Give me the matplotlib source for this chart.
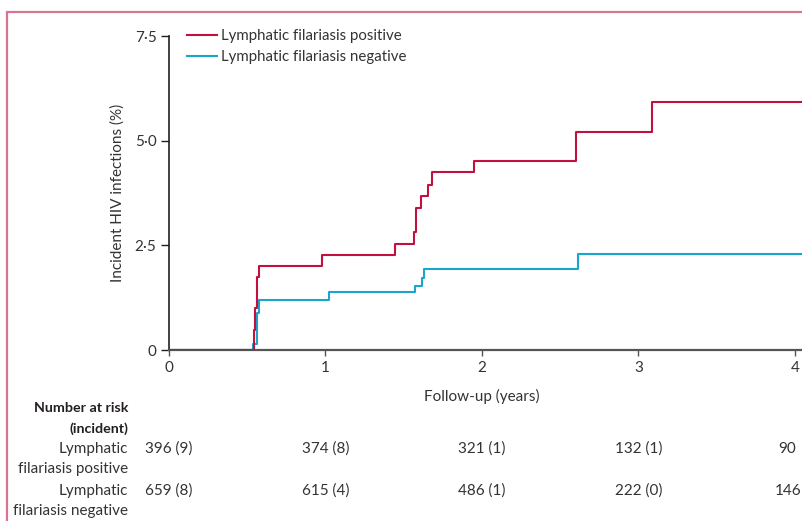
import matplotlib
matplotlib.use("Agg")
import matplotlib.pyplot as plt
import matplotlib.transforms as mtransforms
from matplotlib.patches import Rectangle

plt.rcParams['font.family'] = ['Lato', 'DejaVu Sans']

# cumulative incidence step data (years, %)
pos_t = [0, 0.542, 0.551, 0.560, 0.564, 0.577, 0.977, 1.444, 1.567, 1.578, 1.610, 1.657, 1.680, 1.951, 2.598, 3.088, 4.4]
pos_y = [0, 0.48, 1.01, 1.21, 1.75, 2.00, 2.27, 2.54, 2.81, 3.38, 3.67, 3.95, 4.25, 4.52, 5.21, 5.93, 5.93]
neg_t = [0, 0.539, 0.560, 0.573, 1.024, 1.574, 1.617, 1.630, 2.615, 4.4]
neg_y = [0, 0.14, 0.89, 1.19, 1.38, 1.54, 1.72, 1.93, 2.30, 2.30]

risk_years = [0, 1, 2, 3]
risk_pos = ["396 (9)", "374 (8)", "321 (1)", "132 (1)"]
risk_neg = ["659 (8)", "615 (4)", "486 (1)", "222 (0)"]
risk_last = ["90", "146"]

red = '#c2103f'
blue = '#1aa5cc'
txt = '#231f20'
grey = '#333333'

fig = plt.figure(figsize=(8.03, 5.21), dpi=100)
xmax = 4.3
ax = fig.add_axes([169/803, 171/521, xmax*156.5/803, 314/521])

# pink frame around the panel
fig.patches.append(Rectangle((7/803, -0.2), 1.5, 0.2 + 509/521, transform=fig.transFigure,
                             fill=False, edgecolor='#d9768f', linewidth=1.6))

ax.step(pos_t, pos_y, where='post', color=red, lw=1.5, label='Lymphatic filariasis positive', zorder=3)
ax.step(neg_t, neg_y, where='post', color=blue, lw=1.5, label='Lymphatic filariasis negative', zorder=2)

ax.set_xlim(0, xmax)
ax.set_ylim(0, 7.5)
ax.set_yticks([0, 2.5, 5, 7.5])
ax.set_yticklabels(['0', '2·5', '5·0', '7·5'])
ax.set_xticks([0, 1, 2, 3, 4])
ax.set_xticklabels(['0', '1', '2', '3', '4'])
for s in ['top', 'right']:
    ax.spines[s].set_visible(False)
ax.spines['left'].set_color(txt)
ax.spines['bottom'].set_color('#555555')
ax.spines['left'].set_linewidth(1.2)
ax.spines['bottom'].set_linewidth(1.6)
ax.tick_params(axis='y', length=6, width=1, color=txt, pad=3, labelsize=11, labelcolor=grey)
ax.tick_params(axis='x', length=4, width=1, color='#555555', pad=4, labelsize=11, labelcolor=grey)
ax.set_ylabel('Incident HIV infections (%)', fontsize=11, color=grey, labelpad=7)

lab_tr = mtransforms.blended_transform_factory(ax.transData, fig.transFigure)
ax.text(2, 1 - 396/521, 'Follow-up (years)', transform=lab_tr, ha='center', va='center',
        fontsize=11, color=grey)

ax.legend(loc='upper left', bbox_to_anchor=(0.018, 1.04), frameon=False, fontsize=10.8,
          handlelength=2.0, handletextpad=0.25, labelspacing=0.45, borderaxespad=0,
          labelcolor=grey)

# number at risk table
fx = 128/803
fig.text(fx, 1 - 408/521, 'Number at risk', ha='right', va='center', fontsize=10.3,
         fontweight='bold', color=txt)
fig.text(fx, 1 - 429/521, '(incident)', ha='right', va='center', fontsize=10.3,
         fontweight='bold', color=txt)
fig.text(fx, 1 - 449/521, 'Lymphatic', ha='right', va='center', fontsize=11, color=grey)
fig.text(fx, 1 - 469/521, 'filariasis positive', ha='right', va='center', fontsize=11, color=grey)
fig.text(fx, 1 - 491/521, 'Lymphatic', ha='right', va='center', fontsize=11, color=grey)
fig.text(fx, 1 - 511/521, 'filariasis negative', ha='right', va='center', fontsize=11, color=grey)

for yr, p, n in zip(risk_years, risk_pos, risk_neg):
    ax.text(yr, 1 - 449/521, p, transform=lab_tr, ha='center', va='center', fontsize=11, color=grey)
    ax.text(yr, 1 - 491/521, n, transform=lab_tr, ha='center', va='center', fontsize=11, color=grey)
ax.text(3.895, 1 - 449/521, risk_last[0], transform=lab_tr, ha='left', va='center', fontsize=11, color=grey)
ax.text(3.87, 1 - 491/521, risk_last[1], transform=lab_tr, ha='left', va='center', fontsize=11, color=grey)

fig.savefig('out.png', dpi=100)
